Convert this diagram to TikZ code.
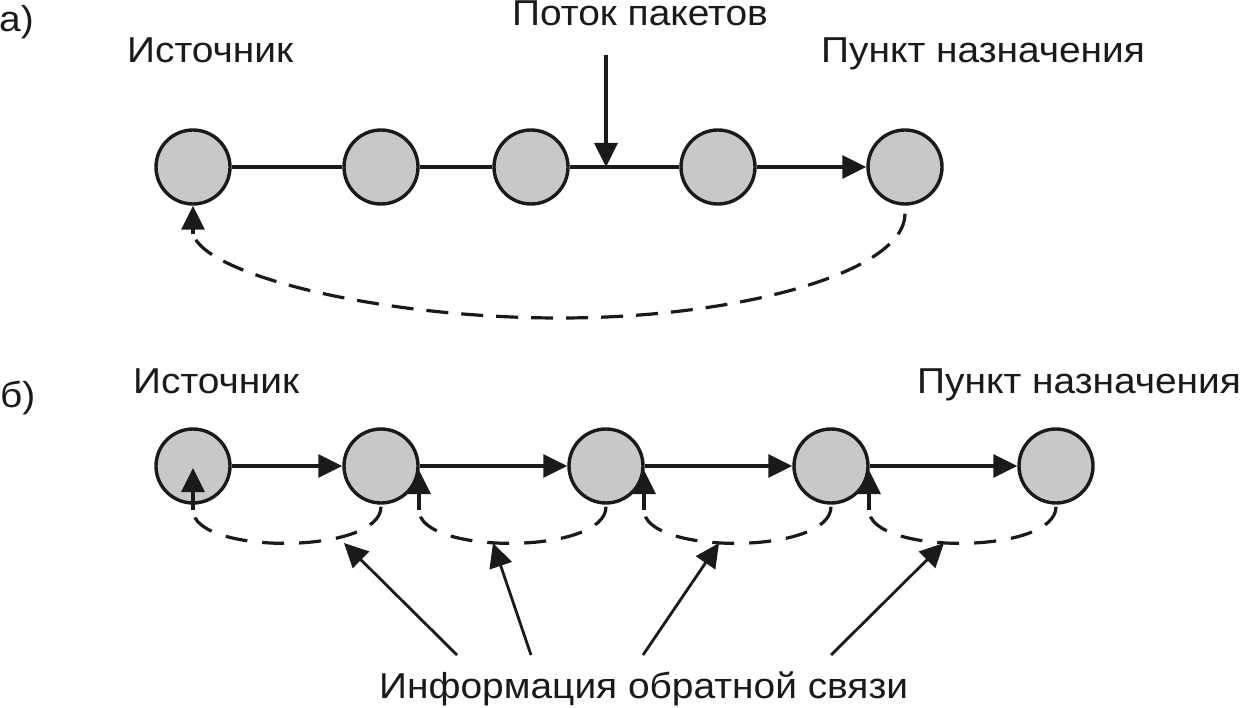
\documentclass[tikz,border=0pt]{standalone}
\usepackage{fontspec}
\setmainfont{Liberation Sans}[FakeStretch=1.08]
\usetikzlibrary{arrows.meta}
\definecolor{ink}{HTML}{1A1A1A}
\definecolor{nodefill}{HTML}{C8C8C8}
\begin{document}
\begin{tikzpicture}[x=1pt,y=-1pt,
  nd/.style={circle,draw=ink,fill=nodefill,line width=3.4pt,minimum size=74pt,inner sep=0pt},
  link/.style={draw=ink,line width=3.2pt},
  tipped/.style={link,-{Triangle[length=24pt,width=23pt]}},
  fbline/.style={draw=ink,line width=3.2pt,dash pattern=on 22pt off 13pt},
  fbloop/.style={draw=ink,line width=3.2pt,dash pattern=on 22pt off 15pt},
  lbl/.style={anchor=base west,inner sep=0pt,text=ink,font=\fontsize{36}{42}\selectfont}]
\useasboundingbox (0,0) rectangle (1241,708);
% labels
\node[lbl] (la) at (-1,32) {а)};
\node[lbl] (src1) at (127,63) {Источник};
\node[lbl] (flow) at (512,26) {Поток пакетов};
\node[lbl] (dst1) at (821,63) {Пункт назначения};
\node[lbl] (lb) at (0,407) {б)};
\node[lbl] (src2) at (133,393) {Источник};
\node[lbl] (dst2) at (917,393) {Пункт назначения};
\node[lbl] (fbl) at (379,698) {Информация обратной связи};
% top row
\node[nd] (t1) at (193,167) {};
\node[nd] (t2) at (381,167) {};
\node[nd] (t3) at (531,167) {};
\node[nd] (t4) at (718,167) {};
\node[nd] (t5) at (905,167) {};
\draw[link] (t1) -- (t2);
\draw[link] (t2) -- (t3);
\draw[link] (t3) -- (t4);
\draw[tipped] (t4) -- (t5);
\coordinate (fs) at (606,55);
\coordinate (fe) at (606,167);
\draw[tipped] (fs) -- (fe);
\coordinate (ta) at ([yshift=-8pt]t5.south);
\coordinate (tb) at (193,234);
\draw[fbline] (ta) .. controls (905,272) and (740,318) .. (560,318)
  .. controls (380,318) and (205,275) .. (tb);
\draw[tipped] (tb) -- (t1.south);
% bottom row
\node[nd] (b1) at (193,466) {};
\node[nd] (b2) at (381,466) {};
\node[nd] (b3) at (606,466) {};
\node[nd] (b4) at (831,466) {};
\node[nd] (b5) at (1056,466) {};
\draw[tipped] (b1) -- (b2);
\draw[tipped] (b2) -- (b3);
\draw[tipped] (b3) -- (b4);
\draw[tipped] (b4) -- (b5);
% feedback loops
\coordinate (s1) at ([yshift=-2pt]b2.south);
\coordinate (e1) at (193,510);
\coordinate (h1) at (193,468);
\draw[fbloop] (s1) .. controls (381,555) and (193,555) .. (e1);
\draw[tipped] (e1) -- (h1);
\coordinate (s2) at ([yshift=-2pt]b3.south);
\coordinate (e2) at (419,510);
\coordinate (h2) at (419,470);
\draw[fbloop] (s2) .. controls (606,555) and (419,555) .. (e2);
\draw[tipped] (e2) -- (h2);
\coordinate (s3) at ([yshift=-2pt]b4.south);
\coordinate (e3) at (644,510);
\coordinate (h3) at (644,470);
\draw[fbloop] (s3) .. controls (831,555) and (644,555) .. (e3);
\draw[tipped] (e3) -- (h3);
\coordinate (s4) at ([yshift=-2pt]b5.south);
\coordinate (e4) at (869,510);
\coordinate (h4) at (869,470);
\draw[fbloop] (s4) .. controls (1056,555) and (869,555) .. (e4);
\draw[tipped] (e4) -- (h4);
% pointers
\coordinate (p1) at (457,655);
\coordinate (p2) at (531,655);
\coordinate (p3) at (643,655);
\coordinate (p4) at (831,655);
\coordinate (q1) at (344,543);
\coordinate (q2) at (493,543);
\coordinate (q3) at (719,543);
\coordinate (q4) at (944,543);
\draw[tipped,line width=2.8pt] (p1) -- (q1);
\draw[tipped,line width=2.8pt] (p2) -- (q2);
\draw[tipped,line width=2.8pt] (p3) -- (q3);
\draw[tipped,line width=2.8pt] (p4) -- (q4);
\end{tikzpicture}
\end{document}
